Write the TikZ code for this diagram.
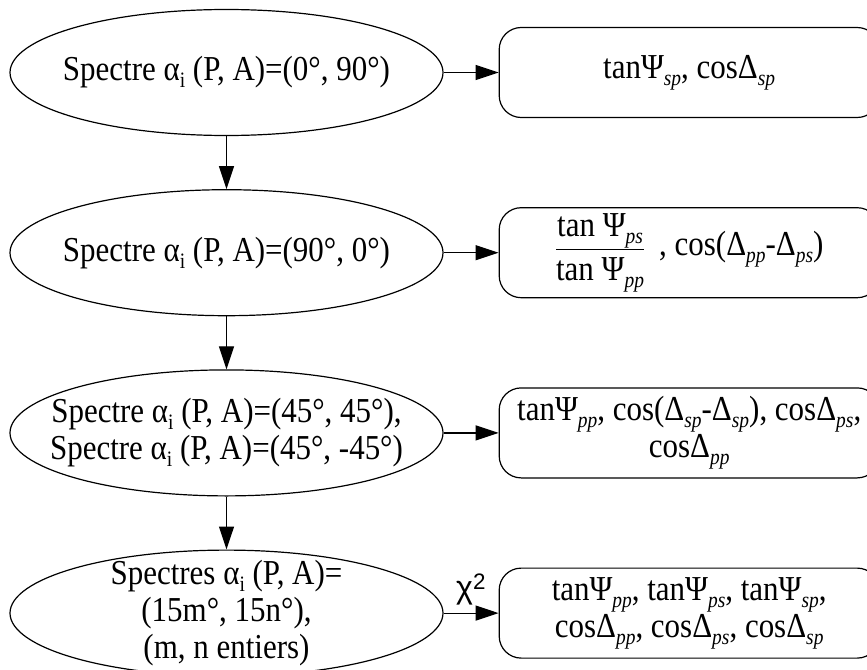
\documentclass[tikz,border=0pt]{standalone}
\usepackage{fontspec}
\setmainfont{Liberation Serif}[FakeStretch=0.885]
\newfontfamily\chifont{Liberation Sans}
\usetikzlibrary{arrows.meta,positioning,shapes.geometric}
\newcommand{\isub}[1]{\raisebox{-7pt}{\fontsize{22}{22}\selectfont\itshape #1}}
\newcommand{\rsub}[1]{\raisebox{-7pt}{\fontsize{22}{22}\selectfont #1}}
\tikzset{spec/.style={draw,ellipse,align=center,line width=1.2pt,minimum width=433pt,minimum height=126pt,inner xsep=-25pt,inner ysep=-12pt},res/.style={draw,rounded corners=22pt,align=center,line width=1.2pt,minimum width=380pt,minimum height=90pt,inner sep=0pt},arrow/.style={-{Triangle[length=23pt,width=15pt]},line width=1.2pt},big/.style={font=\fontsize{35}{37}\selectfont}}
\begin{document}
\begin{tikzpicture}[node distance=53pt and 55pt,big]
\useasboundingbox (0,0) rectangle (867pt,-669pt);
\node[spec] (s1) at (226.5pt,-72.5pt) {Spectre α\rsub{i} (P, A)=(0°, 90°)};
\node[spec,below=of s1] (s2) {Spectre α\rsub{i} (P, A)=(90°, 0°)};
\node[spec,below=of s2] (s3) {Spectre α\rsub{i} (P, A)=(45°, 45°),\\Spectre α\rsub{i} (P, A)=(45°, -45°)};
\node[spec,below=of s3] (s4) {Spectres α\rsub{i} (P, A)=\\(15m°, 15n°),\\(m, n entiers)};
\node[res,right=of s1] (r1) {tanΨ\isub{sp}, cosΔ\isub{sp}};
\node[res,right=of s2] (r2) {$\displaystyle\frac{\mbox{tan Ψ\isub{ps}}}{\mbox{\rule{0pt}{29pt}tan Ψ\isub{pp}}}$\hspace{14pt}, cos(Δ\isub{pp}-Δ\isub{ps})};
\node[res,right=of s3] (r3) {tanΨ\isub{pp}, cos(Δ\isub{sp}-Δ\isub{sp}), cosΔ\isub{ps},\\cosΔ\isub{pp}};
\node[res,right=of s4] (r4) {tanΨ\isub{pp}, tanΨ\isub{ps}, tanΨ\isub{sp},\\cosΔ\isub{pp}, cosΔ\isub{ps}, cosΔ\isub{sp}};
\draw[arrow] (s1)--(s2);
\draw[arrow] (s2)--(s3);
\draw[arrow] (s3)--(s4);
\draw[arrow] (s1)--(r1);
\draw[arrow] (s2)--(r2);
\draw[arrow] (s3)--(r3);
\draw[arrow] (s4)--node[above=4pt,font=\chifont\fontsize{32}{32}\selectfont]{χ\textsuperscript{2}}(r4);
\end{tikzpicture}
\end{document}
